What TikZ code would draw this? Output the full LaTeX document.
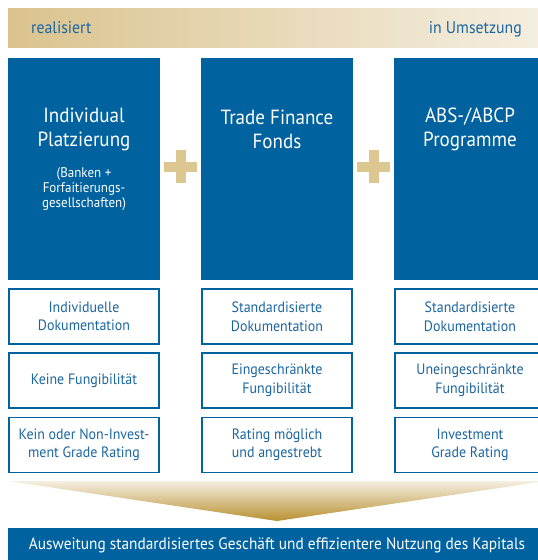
\documentclass[tikz,border=0pt]{standalone}
\usepackage{fontspec}
\setmainfont[FakeStretch=0.93]{PT Sans}
\definecolor{kfwblue}{RGB}{0,98,158}
\definecolor{labelblue}{RGB}{28,102,160}
\definecolor{sand}{RGB}{218,195,142}
\definecolor{cream}{RGB}{245,239,226}
\definecolor{gold}{RGB}{184,144,48}
\definecolor{plustan}{RGB}{221,199,145}

\begin{document}
\begin{tikzpicture}[x=1pt,y=-1pt,
  header/.style={fill=kfwblue, draw=none, minimum width=152pt, minimum height=222pt, inner sep=0pt},
  feature/.style={draw=kfwblue, line width=1.3pt, fill=white, minimum width=150pt,
    minimum height=55pt, align=center, text=labelblue, inner sep=0pt,
    font=\fontsize{15}{18.5}\selectfont},
  title/.style={text=white, align=center, inner sep=0pt, font=\fontsize{20.5}{24}\selectfont},
  note/.style={text=white, align=center, inner sep=0pt, font=\fontsize{14}{14.8}\selectfont},
  phase/.style={text=labelblue, inner sep=0pt, font=\fontsize{17}{19}\selectfont},
  plusmark/.style={fill=plustan, draw=none},
]
\useasboundingbox (0,0) rectangle (538,560);

% phase bar
\node (bar) [left color=sand, right color=cream, minimum width=538pt, minimum height=39pt, inner sep=0pt] at (277,27.5) {};
\node (done) [phase, anchor=base west] at (31,33) {realisiert};
\node (todo) [phase, anchor=base east] at (522,33) {in Umsetzung};

% three product columns
\node (h1) [header] at (84,169) {};
\node (h2) [header] at (277,169) {};
\node (h3) [header] at (470,169) {};

\node (t1) [title] at (84,129) {Individual\\Platzierung};
\node (n1) [note] at (84,189) {(Banken +\\Forfaitierungs-\\gesellschaften)};
\node (t2) [title] at (277,129) {Trade Finance\\Fonds};
\node (t3) [title] at (470,129) {ABS-/ABCP\\Programme};

% plus signs between the columns
\foreach \cx in {180.5,373.5}{
  \fill[plusmark] (\cx-16.5,161.5) rectangle (\cx+16.5,171.5);
  \fill[plusmark] (\cx-5,150) rectangle (\cx+5,183);
}

% properties
\node (a1) [feature] at (84,316.5) {Individuelle\\Dokumentation};
\node (a2) [feature] at (84,380.5) {Keine Fungibilität};
\node (a3) [feature] at (84,445) {Kein oder Non-Invest-\\ment Grade Rating};

\node (b1) [feature] at (277,316.5) {Standardisierte\\Dokumentation};
\node (b2) [feature] at (277,380.5) {Eingeschränkte\\Fungibilität};
\node (b3) [feature] at (277,445) {Rating möglich\\und angestrebt};

\node (c1) [feature] at (470,316.5) {Standardisierte\\Dokumentation};
\node (c2) [feature] at (470,380.5) {Uneingeschränkte\\Fungibilität};
\node (c3) [feature] at (470,445) {Investment\\Grade Rating};

% funnel towards the result
\coordinate (fl) at (8,481);
\coordinate (fr) at (546,481);
\coordinate (tip) at (277,521);
\path[top color=cream, bottom color=gold] (fl) -- (fr) -- (tip) -- cycle;

% result
\node (res) [fill=kfwblue, minimum width=538pt, minimum height=35pt, inner sep=0pt,
  text=white, font=\fontsize{16.5}{19}\selectfont] at (277,545.5)
  {Ausweitung standardisiertes Geschäft und effizientere Nutzung des Kapitals};
\end{tikzpicture}
\end{document}
